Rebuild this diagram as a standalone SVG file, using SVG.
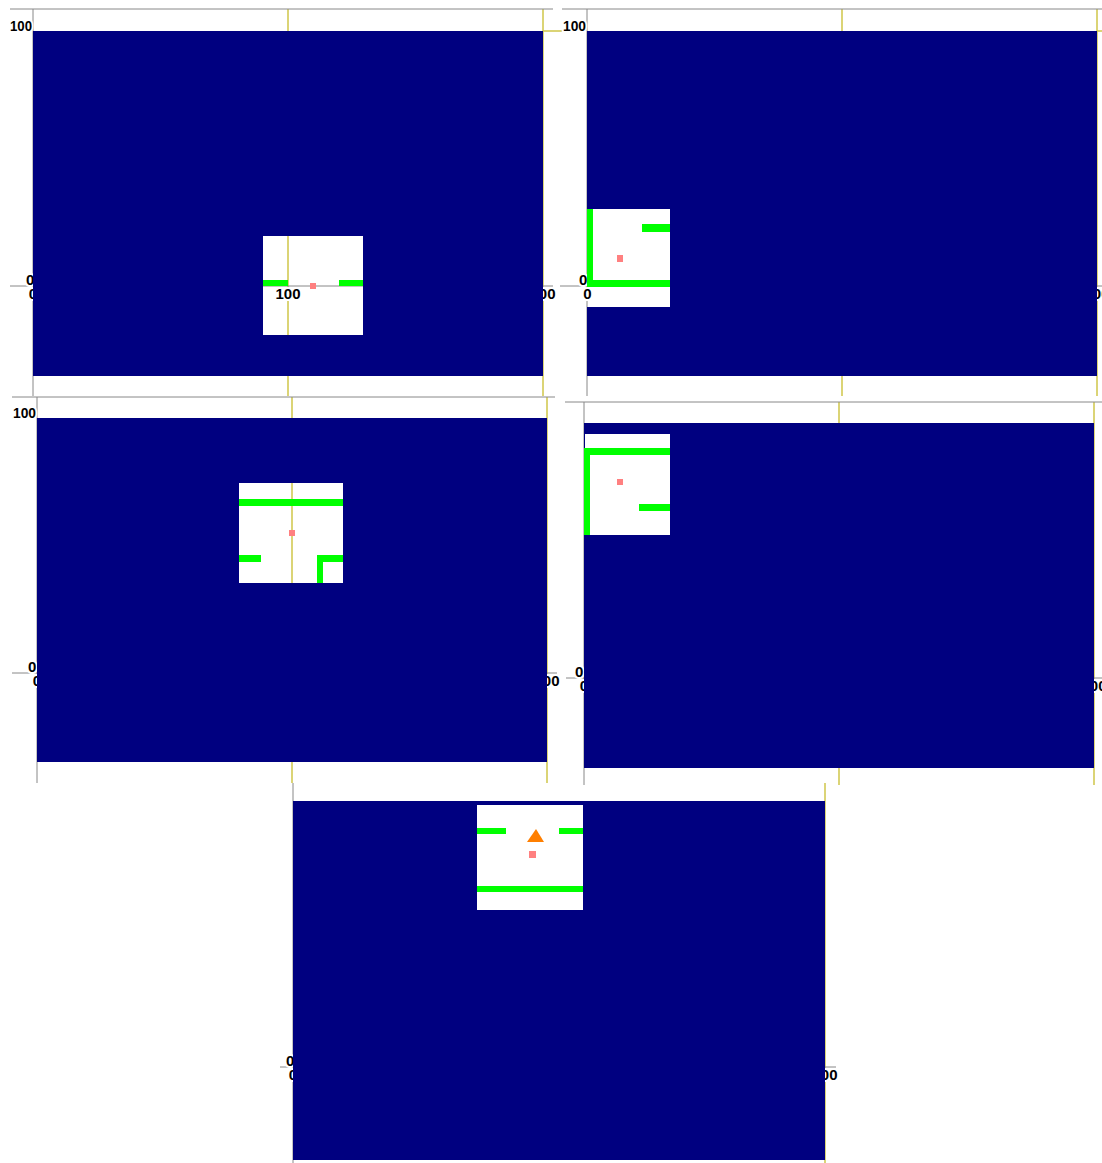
<svg xmlns="http://www.w3.org/2000/svg" width="1102" height="1163" viewBox="0 0 1102 1163">
<style>
.ax{stroke:#888888;stroke-width:1;fill:none}
.gd{stroke:#cfc64a;stroke-width:1.5;fill:none}
.lb{font-family:"Liberation Sans",Arial,sans-serif;font-size:15px;font-weight:bold;fill:#000;stroke:#fff;stroke-width:4;paint-order:stroke}
.fog{fill:#000080;fill-rule:evenodd}
.wall{fill:#00ff00}
.pt{fill:#ff8080}
</style>
<rect width="1102" height="1163" fill="#fff"/>

<g id="panel1">
  <path class="gd" d="M288 9V396M543 9V396M543 31H562"/>
  <path class="ax" d="M10 9H553M33 9V396M10 286H553"/>
  <text class="lb" x="10" y="31" textLength="22" lengthAdjust="spacingAndGlyphs">100</text>
  <text class="lb" x="26" y="285">0</text>
  <text class="lb" x="33" y="299" text-anchor="middle">0</text>
  <text class="lb" x="288" y="299" text-anchor="middle">100</text>
  <text class="lb" x="543" y="299" text-anchor="middle">200</text>
  <path class="fog" d="M33 31H543V376H33ZM263 236H363V335H263Z"/>
  <rect class="wall" x="263" y="280" width="25" height="6"/>
  <rect class="wall" x="339" y="280" width="24" height="6"/>
  <rect class="pt" x="310" y="283" width="6" height="6"/>
</g>

<g id="panel2">
  <path class="gd" d="M842 9V396M1097 9V396M1097 31H1102"/>
  <path class="ax" d="M562 9H1102M587 9V396M560 286H1102"/>
  <text class="lb" x="563" y="31" textLength="23" lengthAdjust="spacingAndGlyphs">100</text>
  <text class="lb" x="579" y="285">0</text>
  <text class="lb" x="587.5" y="299" text-anchor="middle">0</text>
  <text class="lb" x="842" y="299" text-anchor="middle">100</text>
  <text class="lb" x="1097" y="299" text-anchor="middle">200</text>
  <path class="fog" d="M587 31H1097V376H587ZM587 209H670V307H587Z"/>
  <rect class="wall" x="587" y="209" width="6" height="78"/>
  <rect class="wall" x="587" y="280" width="83" height="7"/>
  <rect class="wall" x="642" y="224" width="28" height="8"/>
  <rect class="pt" x="617" y="255" width="6" height="7"/>
</g>

<g id="panel3">
  <path class="gd" d="M292 397V783M547 397V783M12 418H14"/>
  <path class="ax" d="M12 397H555M37 397V783M12 673H557"/>
  <text class="lb" x="13" y="418" textLength="23" lengthAdjust="spacingAndGlyphs">100</text>
  <text class="lb" x="28" y="672">0</text>
  <text class="lb" x="37" y="686" text-anchor="middle">0</text>
  <text class="lb" x="292" y="686" text-anchor="middle">100</text>
  <text class="lb" x="547" y="686" text-anchor="middle">200</text>
  <path class="fog" d="M37 418H547V762H37ZM239 483H343V583H239Z"/>
  <rect class="wall" x="239" y="499" width="104" height="7"/>
  <rect class="wall" x="239" y="555" width="22" height="7"/>
  <rect class="wall" x="317" y="555" width="26" height="7"/>
  <rect class="wall" x="317" y="555" width="6" height="28"/>
  <rect class="pt" x="289" y="530" width="6" height="6"/>
</g>

<g id="panel4">
  <path class="gd" d="M839 402V785M1094 402V785"/>
  <path class="ax" d="M565 402H1102M584 402V785M566 678H1102"/>
  <text class="lb" x="575" y="677">0</text>
  <text class="lb" x="584" y="691" text-anchor="middle">0</text>
  <text class="lb" x="839" y="691" text-anchor="middle">100</text>
  <text class="lb" x="1094" y="691" text-anchor="middle">200</text>
  <path class="fog" d="M584 423H1094V768H584ZM585 434H670V535H585Z"/>
  <rect class="wall" x="584" y="448" width="86" height="7"/>
  <rect class="wall" x="584" y="448" width="6" height="87"/>
  <rect class="wall" x="639" y="504" width="31" height="7"/>
  <rect class="pt" x="617" y="479" width="6" height="6"/>
</g>

<g id="panel5">
  <path class="gd" d="M825 783V1163"/>
  <path class="ax" d="M293 783V1163M280 1067H836"/>
  <text class="lb" x="286" y="1066">0</text>
  <text class="lb" x="293" y="1080" text-anchor="middle">0</text>
  <text class="lb" x="825" y="1080" text-anchor="middle">200</text>
  <path class="fog" d="M293 801H825V1160H293ZM477 805H583V910H477Z"/>
  <rect class="wall" x="477" y="828" width="29" height="6"/>
  <rect class="wall" x="559" y="828" width="24" height="6"/>
  <rect class="wall" x="477" y="886" width="106" height="6"/>
  <path d="M536 829L544 842H527Z" fill="#ff7f00"/>
  <rect class="pt" x="529" y="851" width="7" height="7"/>
</g>
</svg>
